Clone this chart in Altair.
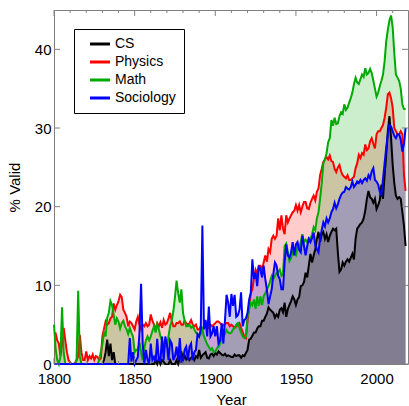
import altair as alt
import pandas as pd

years = list(range(1800, 2019))

cs = [
    0, 0, 0, 0, 0, 0, 0, 0, 0, 0,
    0, 0, 0, 0, 0, 0, 0, 0, 0, 0,
    0, 0, 0, 0, 0, 0, 0, 0, 0, 0,
    0, 0.5, 1.5, 3.1, 1, 2.6, 0.5, 1.5, 0, 0,
    0, 0, 0, 0, 0, 0, 0, 0, 0, 0,
    0, 0, 0, 0, 0, 0, 0, 0, 0, 0,
    0, 0, 0, 0.5, 0, 0.7, 0, 0.5, 0.3, 0,
    0, 0, 0.5, 0, 0, 0, 0.5, 0, 0.8, 1.6,
    0.5, 1.1, 0.6, 0.9, 0.5, 0.8, 0.9, 0.5, 1, 0.8,
    1.8, 0.8, 1.1, 1.3, 1.5, 0.8, 0.7, 1.2, 1.3, 1,
    1.4, 1.2, 1.6, 1.4, 1.2, 1.1, 1.3, 1, 1.1, 1,
    0.9, 0.9, 1.2, 1, 1.1, 1.1, 0.8, 1.1, 1, 1.4,
    1.8, 3.1, 3.2, 3.6, 4, 4, 4.5, 4.8, 4.8, 5.5,
    5.5, 6, 6.4, 7.2, 6.9, 6.7, 6.5, 5.9, 6.3, 6,
    6.9, 7.1, 6.6, 7.8, 6, 7, 7.5, 8, 8.6, 8.2,
    7.5, 8.2, 8.5, 9.9, 10, 10.4, 11.6, 11, 12.5, 14,
    12.9, 13.8, 14.6, 15.9, 16.8, 15.5, 16.5, 16.8, 15.9, 16.5,
    15.5, 16.3, 16.8, 17.2, 17, 17.2, 14.2, 11.7, 12, 12.9,
    12.5, 13, 13.3, 13, 13.5, 14, 13.3, 15.9, 17.2, 17.5,
    17.8, 18, 18.5, 19.5, 21, 22, 21.2, 21, 20.5, 21,
    19.7, 20.2, 20.8, 22.8, 21, 24, 26.6, 29.6, 31.5, 28.7,
    25.3, 23, 21.4, 21, 21.2, 21, 19.3, 17.6, 15,
]

physics = [
    3.9, 3.9, 3, 2.6, 1, 2.5, 4.6, 3, 1.5, 0.5,
    0.2, 0, 0, 0.1, 0.5, 1, 3.7, 1.5, 0.5, 0.5,
    1.6, 0.5, 1, 0.7, 1.2, 0.5, 1, 0.9, 0.5, 0.7,
    3.5, 4.5, 5.4, 5, 5.2, 5.8, 6, 7.7, 6.9, 7.5,
    8, 8.8, 8.5, 6.9, 6.5, 6, 4.8, 5.4, 5.2, 4.8,
    4.4, 5.4, 6, 5, 4.4, 5, 4.8, 5.2, 4.8, 5,
    6.3, 5.5, 5, 4.4, 5.2, 4.8, 5.3, 4.6, 5.6, 5,
    5.2, 5.8, 6.5, 5.5, 4.8, 4.8, 5.2, 5.2, 5.4, 5,
    5, 5.5, 5.2, 5, 5.2, 5.6, 5, 4.8, 5, 4.4,
    4.4, 4.8, 4.4, 4.6, 5.2, 4.8, 4.6, 5, 4.8, 5,
    5.2, 5.4, 5.4, 5.2, 5, 4.9, 5.1, 5.2, 5.2, 4.8,
    5, 4.8, 4.6, 4.8, 5, 5.2, 4.6, 4.1, 3.5, 3.3,
    5.5, 7.3, 9, 9.5, 11, 12, 11.5, 12.5, 12.5, 12,
    12.9, 13.8, 13, 14.6, 14.2, 15.9, 16.3, 15.9, 16.3, 18.5,
    17, 18.9, 17.2, 16.5, 18.9, 18, 18.5, 18.9, 19.3, 19.5,
    20.2, 19.5, 20.2, 19.3, 20, 20.6, 20.6, 19.8, 19.7, 20.5,
    21, 21.4, 20.8, 21.9, 22.3, 24, 24.8, 25.7, 26, 26.3,
    26, 26.5, 25.8, 25.7, 24.8, 24.4, 25, 25.3, 24.5, 24,
    23.8, 23.6, 24, 23.4, 23.4, 23.6, 23.8, 24.9, 25.5, 26.6,
    26.2, 26.8, 26.6, 27.9, 27.2, 27.4, 28.3, 28.7, 28, 27.4,
    29.2, 29.6, 29.6, 30, 30.4, 31.3, 32.6, 34.3, 34.5, 33.8,
    32.6, 30, 29.6, 29.2, 29.2, 29.6, 29.2, 24, 22,
]

math = [
    5, 2, 0.5, 0, 1, 7.2, 1.5, 0, 0, 0,
    0, 0, 0, 0, 0.5, 9.3, 1, 0, 0, 0,
    0, 0, 0, 0, 0, 0, 0, 0, 0.5, 1.5,
    2.5, 4, 3.5, 5.9, 6.5, 8, 7.5, 6.3, 5, 5.8,
    5.4, 4.5, 5.2, 5.5, 4.8, 4.4, 3.8, 4.6, 4, 3.5,
    1.5, 1.8, 1.8, 2.7, 1.5, 0.5, 2, 3, 3.5, 3,
    3.5, 4.2, 4.8, 4, 5, 4.4, 3.5, 3, 2.5, 2.2,
    2.2, 3.5, 4.8, 5.5, 6.7, 8.5, 10.6, 9, 7.8, 9.5,
    6.5, 5.5, 4.8, 4.8, 5, 4.6, 4.8, 4.4, 4, 3.8,
    3.5, 3.8, 4.4, 3.5, 3, 2.5, 2.2, 1.8, 2, 1.5,
    1.6, 2, 2.2, 2.6, 3.5, 3.5, 3.8, 4.3, 4, 3.9,
    4, 4.4, 4.6, 5, 5.2, 4.6, 4, 3.5, 3.3, 3.5,
    6, 6.9, 7.8, 7.5, 8.2, 7, 8.6, 7.4, 8.6, 7.5,
    8.6, 9, 9.5, 9.9, 10.5, 11.2, 10.8, 11.2, 11.6, 11.7,
    12, 11.2, 11.5, 15, 15.3, 14.2, 13.1, 13.5, 14.2, 14,
    13.8, 15, 14.6, 15.5, 16.5, 15.5, 15.8, 15.5, 16, 15.9,
    16.5, 17.4, 17, 18.5, 19.3, 21, 23, 25.5, 26, 26.8,
    28.2, 28.7, 31, 30.3, 31.3, 30.5, 30.6, 31.5, 32, 31.8,
    33, 32.3, 32.6, 33.2, 33.8, 34.5, 35.6, 36.4, 35.8, 35.6,
    36.2, 36.8, 36.5, 37.6, 36.8, 37, 37.5, 37, 36, 35,
    34, 34.5, 35.3, 36, 36.8, 38.5, 41, 42.5, 43.7, 44.3,
    42.8, 39.5, 36.8, 36.4, 36, 35, 33, 32.4, 32.4,
]

sociology = [
    0, 0, 0, 0, 0, 0, 0, 0, 0, 0,
    0, 0, 0, 0, 0, 0, 0, 0, 0, 0,
    0, 0, 0, 0, 0, 0, 0, 0, 0, 0,
    0, 0, 0, 0, 0, 0, 0, 0, 0, 0,
    0, 0, 0, 0, 0, 0, 0, 3.3, 0.3, 1.5,
    0, 0.5, 0.9, 4, 10.2, 2.6, 0, 1.8, 0.5, 0,
    2.6, 0.5, 0.9, 0.3, 3.2, 0.5, 0.4, 3.5, 0.5, 3.5,
    2.5, 0.5, 3, 2.6, 0.5, 1, 2.2, 0.5, 3.3, 0.3,
    0.4, 1.8, 2.2, 0.5, 2.2, 2.6, 0.5, 1.5, 1.8, 3.8,
    3.5, 4.4, 17.6, 4.4, 5.6, 3.5, 7.3, 3.5, 3.9, 4.8,
    3.5, 4.8, 2.6, 3, 5.2, 2.6, 5.5, 8.8, 7.8, 6,
    8.9, 7.4, 8.8, 6, 6.2, 6.9, 9.1, 4.8, 5.6, 5.8,
    6.5, 8.2, 9, 13.3, 10.8, 11.6, 9.9, 12.5, 12, 11,
    12.5, 10.8, 9.5, 7.6, 8.6, 9.5, 11.5, 12.9, 12.5, 11.2,
    10.8, 9.5, 9.5, 12.9, 15.2, 13.8, 13.5, 14.2, 15.5, 13.8,
    15.2, 15.5, 14.5, 14.2, 16.3, 15, 13.8, 15, 15.9, 15.5,
    16, 16.7, 15.1, 14.6, 14.2, 16, 17, 18, 17.5, 18.5,
    18, 18.5, 19.3, 19.7, 20.5, 19.8, 20.3, 21, 21.5, 21.8,
    21.9, 22.5, 22.3, 22.2, 22.5, 23.2, 22.5, 22.8, 23.2, 23,
    23.4, 23, 23.4, 23.6, 23.3, 24, 23.6, 24.5, 24.9, 23.4,
    23.2, 22.8, 21.9, 21.5, 23.5, 25.5, 27.5, 29.2, 30.4, 30.2,
    29.6, 29, 28.7, 29.2, 29.2, 28.5, 27, 28, 30,
]

series_names = ["CS", "Physics", "Math", "Sociology"]
series_colors = ["#000000", "#ff0000", "#00aa00", "#0000ff"]
series_values = [cs, physics, math, sociology]

x_major_ticks = [1800, 1850, 1900, 1950, 2000]
x_minor_ticks = [1810, 1820, 1830, 1840, 1860, 1870, 1880, 1890, 1910, 1920,
                 1930, 1940, 1960, 1970, 1980, 1990, 2010]
y_ticks = [0, 10, 20, 30, 40]

W, H = 354, 354
FONT = "Liberation Sans"
FRAME = "#808080"

rows = []
for name, vals in zip(series_names, series_values):
    for yr, v in zip(years, vals):
        rows.append({"year": yr, "value": v, "series": name})
df = pd.DataFrame(rows)

xscale = alt.Scale(domain=[1800, 2019.5], nice=False, zero=False)
yscale = alt.Scale(domain=[0, 45], nice=False, zero=False)

xaxis = alt.Axis(values=x_major_ticks, ticks=False, domain=False, grid=False,
                 labelFontSize=15, labelPadding=7, labelFlush=False,
                 title="Year", titleFontSize=15, titlePadding=6, format="d")
yaxis = alt.Axis(values=y_ticks, ticks=False, domain=False, grid=False,
                 labelFontSize=15, labelPadding=3, labelFlush=False,
                 title="% Valid", titleFontSize=15, titlePadding=12)

X = alt.X("year:Q", scale=xscale, axis=xaxis)
Y = alt.Y("value:Q", scale=yscale, axis=yaxis, stack=None)

layers = []
fill_order = ["Physics", "Math", "Sociology", "CS"]
for name in fill_order:
    col = series_colors[series_names.index(name)]
    layers.append(
        alt.Chart(df).transform_filter(alt.datum.series == name)
        .mark_area(color=col, opacity=0.2)
        .encode(x=X, y=Y)
    )

lines = alt.Chart(df).mark_line(strokeWidth=2).encode(
    x=X,
    y=Y,
    color=alt.Color(
        "series:N",
        scale=alt.Scale(domain=series_names, range=series_colors),
        sort=series_names,
        legend=alt.Legend(
            title=None, orient="none", legendX=20, legendY=19,
            strokeColor="black", fillColor="white", padding=8,
            symbolType="M-5,0H5", symbolSize=16, symbolStrokeWidth=3,
            symbolOffset=11, labelOffset=8,
            labelFontSize=14, labelFont=FONT, rowPadding=4,
        ),
    ),
)
layers.append(lines)

xt_major = pd.DataFrame({"year": x_major_ticks})
xt_minor = pd.DataFrame({"year": x_minor_ticks})
yt = pd.DataFrame({"value": y_ticks})

def xtick(data, length, top):
    if top:
        y0, y1 = 0, length
    else:
        y0, y1 = H, H - length
    return alt.Chart(data).mark_rule(color=FRAME, strokeWidth=1).encode(
        x=X, y=alt.value(y0), y2=alt.value(y1))

def ytick(data, length, right):
    if right:
        x0, x1 = W, W - length
    else:
        x0, x1 = 0, length
    return alt.Chart(data).mark_rule(color=FRAME, strokeWidth=1).encode(
        y=Y, x=alt.value(x0), x2=alt.value(x1))

layers += [
    xtick(xt_major, 6, False), xtick(xt_major, 6, True),
    xtick(xt_minor, 3, False), xtick(xt_minor, 3, True),
    ytick(yt, 6, False), ytick(yt, 6, True),
]

chart = alt.layer(*layers).properties(
    width=W, height=H,
    autosize=alt.AutoSizeParams(type="none"),
    padding={"left": 54, "top": 10, "right": 1, "bottom": 42},
).configure_view(
    stroke=FRAME, strokeWidth=1
).configure_axis(
    labelFont=FONT, titleFont=FONT, labelColor="black", titleColor="black",
    titleFontWeight="normal"
).configure_legend(
    labelFont=FONT, labelColor="black"
)

chart.save("out.html", embed_options={"renderer": "svg", "actions": False})
